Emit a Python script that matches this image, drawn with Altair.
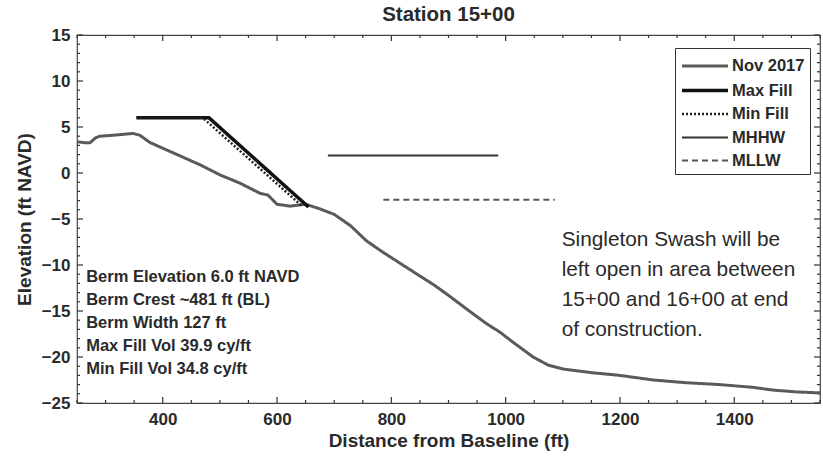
import altair as alt
import pandas as pd

# ---------------- data ----------------
profile_x = [250, 262, 273, 282, 290, 313, 348, 360, 378, 418, 465, 500, 535, 570, 584,
             600, 623, 650, 675, 700, 728, 757, 785, 815, 850, 873, 900, 932, 967, 990,
             1013, 1048, 1075, 1100, 1150, 1200, 1258, 1317, 1375, 1433, 1468, 1510, 1550]
profile_y = [3.4, 3.3, 3.3, 3.8, 4.0, 4.1, 4.3, 4.1, 3.3, 2.2, 0.9, -0.2, -1.1, -2.2, -2.4,
             -3.4, -3.6, -3.4, -3.9, -4.5, -5.7, -7.4, -8.6, -9.8, -11.2, -12.1, -13.3, -14.8, -16.4, -17.3,
             -18.4, -20.0, -20.9, -21.3, -21.7, -22.0, -22.5, -22.8, -23.0, -23.3, -23.6, -23.8, -23.9]
maxfill_x = [354, 481, 655]
maxfill_y = [6.0, 6.0, -3.7]
minfill_x = [354, 470, 642]
minfill_y = [6.0, 6.0, -3.5]
mhhw_x = [689, 987]
mhhw_y = [1.9, 1.9]
mllw_x = [786, 1086]
mllw_y = [-2.9, -2.9]

series_names = ["Nov 2017", "Max Fill", "Min Fill", "MHHW", "MLLW"]
series_x = [profile_x, maxfill_x, minfill_x, mhhw_x, mllw_x]
series_y = [profile_y, maxfill_y, minfill_y, mhhw_y, mllw_y]

x_domain = [250, 1550]
y_domain = [-25, 15]
x_ticks = [400, 600, 800, 1000, 1200, 1400]
x_minor = [v for v in range(250, 1551, 50) if v not in x_ticks]
y_ticks = [-25, -20, -15, -10, -5, 0, 5, 10, 15]
y_minor = [v for v in range(-25, 16) if v not in y_ticks]

left_notes = ["Berm Elevation 6.0 ft NAVD", "Berm Crest ~481 ft (BL)", "Berm Width 127 ft",
              "Max Fill Vol 39.9 cy/ft", "Min Fill Vol 34.8 cy/ft"]
left_notes_y = [-11.3, -13.8, -16.3, -18.8, -21.3]
right_notes = ["Singleton Swash will be", "left open in area between",
               "15+00 and 16+00 at end", "of construction."]
right_notes_y = [-7.3, -10.55, -13.8, -17.05]

rows = []
for name, xs, ys in zip(series_names, series_x, series_y):
    for i, (a, b) in enumerate(zip(xs, ys)):
        rows.append({"series": name, "x": a, "y": b, "idx": i})
df = pd.DataFrame(rows)

left_df = pd.DataFrame({"text": left_notes, "y": left_notes_y, "x": [266] * len(left_notes)})
right_df = pd.DataFrame({"text": right_notes, "y": right_notes_y, "x": [1098] * len(right_notes)})

# inward tick marks (MATLAB-style box), lengths as a fraction of each axis span
PLOT_W, PLOT_H = 743, 368
xspan = x_domain[1] - x_domain[0]
yspan = y_domain[1] - y_domain[0]
def ylen(px):
    return px / PLOT_H * yspan
def xlen(px):
    return px / PLOT_W * xspan

xtick_rows = []
for vals, L in ((x_ticks, ylen(6)), (x_minor, ylen(3))):
    for v in vals:
        xtick_rows.append({"x": v, "y0": y_domain[0], "y1": y_domain[0] + L})
        xtick_rows.append({"x": v, "y0": y_domain[1], "y1": y_domain[1] - L})
ytick_rows = []
for vals, L in ((y_ticks, xlen(6)), (y_minor, xlen(3))):
    for v in vals:
        ytick_rows.append({"y": v, "x0": x_domain[0], "x1": x_domain[0] + L})
        ytick_rows.append({"y": v, "x0": x_domain[1], "x1": x_domain[1] - L})
xtick_df = pd.DataFrame(xtick_rows)
ytick_df = pd.DataFrame(ytick_rows)

FONT = "Liberation Sans"
TXT = "#2a2a2a"

xs_scale = alt.Scale(domain=x_domain, nice=False, zero=False)
ys_scale = alt.Scale(domain=y_domain, nice=False, zero=False)

# ---------------- main lines ----------------
lines = alt.Chart(df).mark_line().encode(
    x=alt.X("x:Q", scale=xs_scale,
            axis=alt.Axis(values=x_ticks, format="d", title="Distance from Baseline (ft)", domain=False,
                          grid=False, ticks=False, tickSize=0, labelPadding=8, titlePadding=4,
                          labelFlush=False)),
    y=alt.Y("y:Q", scale=ys_scale,
            axis=alt.Axis(values=y_ticks, format="d", title="Elevation (ft NAVD)", domain=False,
                          grid=False, ticks=False, tickSize=0, labelPadding=7, titlePadding=7,
                          labelFlush=False)),
    color=alt.Color("series:N", scale=alt.Scale(domain=series_names,
                    range=["#5a5a5a", "#111111", "#222222", "#333333", "#555555"]),
                    legend=alt.Legend(title=None)),
    strokeDash=alt.StrokeDash("series:N", scale=alt.Scale(domain=series_names,
                    range=[[1, 0], [1, 0], [2, 2], [1, 0], [6, 4]]),
                    legend=alt.Legend(title=None)),
    strokeWidth=alt.StrokeWidth("series:N", scale=alt.Scale(type="ordinal", domain=series_names,
                    range=[3, 3.5, 2.5, 1.8, 2.0]),
                    legend=alt.Legend(title=None)),
    detail="series:N",
    order="idx:Q",
)

xticks_layer = alt.Chart(xtick_df).mark_rule(color="#333", strokeWidth=1.2).encode(
    x=alt.X("x:Q", scale=xs_scale, axis=None),
    y=alt.Y("y0:Q", scale=ys_scale, axis=None),
    y2="y1:Q",
)
yticks_layer = alt.Chart(ytick_df).mark_rule(color="#333", strokeWidth=1.2).encode(
    y=alt.Y("y:Q", scale=ys_scale, axis=None),
    x=alt.X("x0:Q", scale=xs_scale, axis=None),
    x2="x1:Q",
)

left_text = alt.Chart(left_df).mark_text(
    align="left", baseline="middle", font=FONT, fontSize=16.5, fontWeight="bold", color=TXT
).encode(
    x=alt.X("x:Q", scale=xs_scale, axis=None),
    y=alt.Y("y:Q", scale=ys_scale, axis=None),
    text="text:N",
)
right_text = alt.Chart(right_df).mark_text(
    align="left", baseline="middle", font=FONT, fontSize=20.8, color=TXT
).encode(
    x=alt.X("x:Q", scale=xs_scale, axis=None),
    y=alt.Y("y:Q", scale=ys_scale, axis=None),
    text="text:N",
)

chart = alt.layer(xticks_layer, yticks_layer, lines, left_text, right_text).resolve_axis(
    x="independent", y="independent"
).properties(
    width=PLOT_W, height=PLOT_H,
    autosize=alt.AutoSizeParams(type="none"),
    padding={"left": 77, "top": 35, "right": 3, "bottom": 64},
    title=alt.Title("Station 15+00", font=FONT, fontSize=20.5, fontWeight="bold", color=TXT,
                    anchor="middle", offset=1),
    background="white",
).configure_view(
    stroke="#444", strokeWidth=1.2
).configure_axis(
    labelFont=FONT, labelFontSize=17, labelFontWeight="bold", labelColor=TXT,
    titleFont=FONT, titleFontSize=19, titleFontWeight="bold", titleColor=TXT,
).configure_legend(
    orient="none", legendX=598, legendY=13,
    fillColor="white", strokeColor="#333", padding=5,
    labelFont=FONT, labelFontSize=16.5, labelFontWeight="bold", labelColor=TXT,
    symbolType="M-1,0H3", symbolSize=529, rowPadding=2, labelOffset=25,
    symbolStrokeColor="#222",
)

chart.save("out.html", embed_options={"renderer": "svg", "actions": False})
